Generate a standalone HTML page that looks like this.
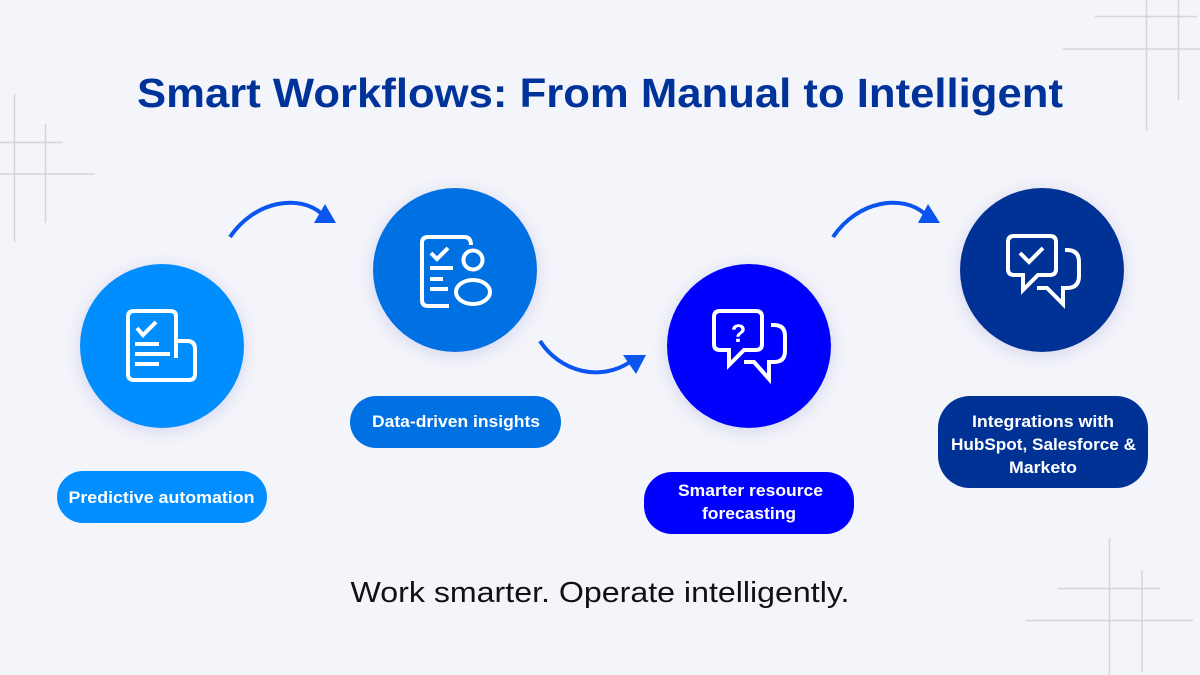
<!DOCTYPE html>
<html>
<head>
<meta charset="utf-8">
<style>
  html, body { margin: 0; padding: 0; background: #F4F5FA; }
  body { width: 1200px; height: 675px; overflow: hidden; }
  svg { display: block; }
  text { font-family: "Liberation Sans", "DejaVu Sans", sans-serif; }
</style>
</head>
<body>
<svg width="1200" height="675" viewBox="0 0 1200 675" xmlns="http://www.w3.org/2000/svg">
  <defs>
    <filter id="sh" x="-40%" y="-40%" width="180%" height="180%">
      <feDropShadow dx="0" dy="3" stdDeviation="9" flood-color="#a9a9de" flood-opacity="0.45"/>
    </filter>
  </defs>
  <rect width="1200" height="675" fill="#F4F5FA"/>

  <!-- grid lines -->
  <g stroke="#D3D4DC" stroke-width="1.5" fill="none">
    <line x1="14.5" y1="94" x2="14.5" y2="242"/>
    <line x1="45.5" y1="124" x2="45.5" y2="223"/>
    <line x1="0" y1="142.5" x2="63" y2="142.5"/>
    <line x1="0" y1="174" x2="95" y2="174"/>

    <line x1="1146.5" y1="0" x2="1146.5" y2="131"/>
    <line x1="1178.5" y1="0" x2="1178.5" y2="100"/>
    <line x1="1095" y1="16.5" x2="1197" y2="16.5"/>
    <line x1="1063" y1="49" x2="1200" y2="49"/>

    <line x1="1109.5" y1="538" x2="1109.5" y2="675"/>
    <line x1="1142" y1="570" x2="1142" y2="672"/>
    <line x1="1058" y1="588.5" x2="1160" y2="588.5"/>
    <line x1="1026" y1="620.5" x2="1193" y2="620.5"/>
  </g>

  <!-- title -->
  <text x="600" y="107" text-anchor="middle" font-size="41" font-weight="bold" fill="#00339A" textLength="926" lengthAdjust="spacingAndGlyphs">Smart Workflows: From Manual to Intelligent</text>

  <!-- arrows -->
  <g stroke="#0A55F0" stroke-width="4" fill="none" stroke-linecap="butt">
    <path d="M230,237 C255,200 300,194 322,214"/>
    <path d="M540,341 C560,372 600,382 630,362"/>
    <path d="M833,237 C858,200 903,194 925,214"/>
  </g>
  <g fill="#0A55F0">
    <polygon points="325,204 314,223 336,223"/>
    <polygon points="623,355 646,355 636,374"/>
    <polygon points="928,204 918,223 940,223"/>
  </g>

  <!-- circles -->
  <circle cx="162" cy="346" r="82" fill="#038EFF" filter="url(#sh)"/>
  <circle cx="455" cy="270" r="82" fill="#0071E3" filter="url(#sh)"/>
  <circle cx="749" cy="346" r="82" fill="#0000FF" filter="url(#sh)"/>
  <circle cx="1042" cy="270" r="82" fill="#003296" filter="url(#sh)"/>

  <!-- icon 1 -->
  <g stroke="#fff" stroke-width="4" fill="none">
    <path d="M176,358 L176,316 Q176,311 170,311 L134,311 Q128,311 128,317 L128,374 Q128,380 134,380 L189,380 Q195,380 195,374 L195,349 Q195,341 187,341 L176,341"/>
    <path d="M137,328 L143,335 L156,322"/>
    <line x1="135" y1="344" x2="159" y2="344"/>
    <line x1="135" y1="354" x2="170" y2="354"/>
    <line x1="135" y1="364" x2="159" y2="364"/>
  </g>

  <!-- icon 2 -->
  <g stroke="#fff" stroke-width="4" fill="none">
    <path d="M449,306 L428,306 Q422,306 422,300 L422,243 Q422,237 428,237 L464,237 Q471,237 471,245"/>
    <path d="M431,253 L437,259 L448,248"/>
    <line x1="430" y1="268" x2="453" y2="268"/>
    <line x1="430" y1="279" x2="443" y2="279"/>
    <line x1="430" y1="289" x2="448" y2="289"/>
    <circle cx="473" cy="260" r="9.5"/>
    <ellipse cx="473" cy="292" rx="17" ry="12"/>
  </g>

  <!-- icon 3 -->
  <g stroke="#fff" stroke-width="4" fill="none" stroke-linejoin="miter">
    <path d="M729,350 L720,350 Q714,350 714,344 L714,317 Q714,311 720,311 L756,311 Q762,311 762,317 L762,344 Q762,350 756,350 L744,350 L729,365 Z"/>
    <path d="M771,325 L774,325 Q785,325 785,336 L785,351 Q785,362 774,362 L769,362 L769,379 L754,362 L744,362"/>
  </g>
  <text x="738.5" y="342" text-anchor="middle" font-size="25" font-weight="bold" fill="#fff">?</text>

  <!-- icon 4 -->
  <g stroke="#fff" stroke-width="4" fill="none" stroke-linejoin="miter">
    <path d="M1023,275 L1014,275 Q1008,275 1008,269 L1008,242 Q1008,236 1014,236 L1050,236 Q1056,236 1056,242 L1056,269 Q1056,275 1050,275 L1038,275 L1023,290 Z"/>
    <path d="M1065,250 L1067,250 Q1079,250 1079,262 L1079,276 Q1079,288 1067,288 L1063,288 L1063,304 L1047,288 L1037,288"/>
    <path d="M1020,253 L1029,262 L1043,248"/>
  </g>

  <!-- pills -->
  <rect x="57" y="471" width="210" height="52" rx="26" fill="#038EFF"/>
  <rect x="350" y="396" width="211" height="52" rx="26" fill="#0071E3"/>
  <rect x="644" y="472" width="210" height="62" rx="28" fill="#0000FF"/>
  <rect x="938" y="396" width="210" height="92" rx="32" fill="#003296"/>

  <g fill="#fff" font-weight="bold" font-size="17">
    <text x="161.5" y="503" text-anchor="middle" textLength="186" lengthAdjust="spacingAndGlyphs">Predictive automation</text>
    <text x="456" y="427" text-anchor="middle" textLength="168" lengthAdjust="spacingAndGlyphs">Data-driven insights</text>
    <text x="750.5" y="496" text-anchor="middle" textLength="145" lengthAdjust="spacingAndGlyphs">Smarter resource</text>
    <text x="749" y="519" text-anchor="middle" textLength="94" lengthAdjust="spacingAndGlyphs">forecasting</text>
    <text x="1043" y="427" text-anchor="middle" textLength="142" lengthAdjust="spacingAndGlyphs">Integrations with</text>
    <text x="1043.5" y="450" text-anchor="middle" textLength="185" lengthAdjust="spacingAndGlyphs">HubSpot, Salesforce &amp;</text>
    <text x="1043" y="473" text-anchor="middle" textLength="68" lengthAdjust="spacingAndGlyphs">Marketo</text>
  </g>

  <!-- subtitle -->
  <text x="600" y="602" text-anchor="middle" font-size="29" fill="#111111" textLength="499" lengthAdjust="spacingAndGlyphs">Work smarter. Operate intelligently.</text>
</svg>
</body>
</html>
